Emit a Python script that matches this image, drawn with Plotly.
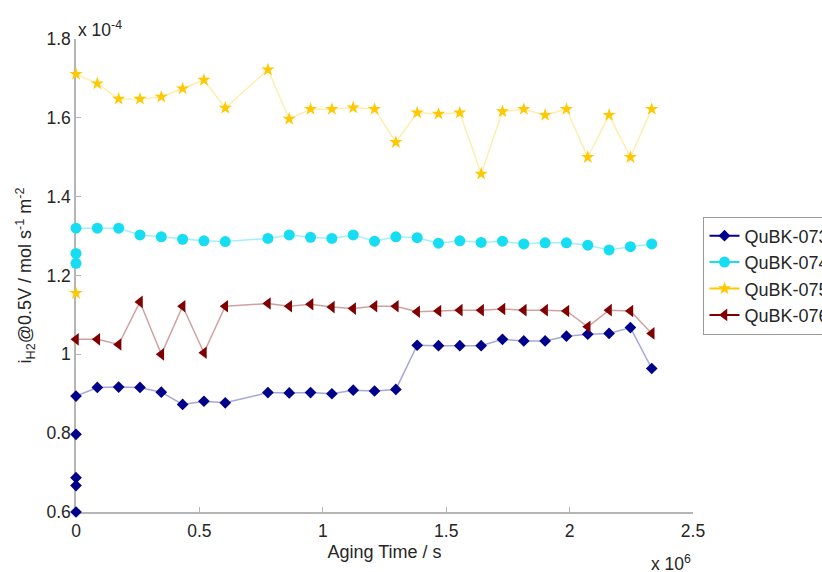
import plotly.graph_objects as go

# Aging time in days (day 8 missing); converted to seconds below
days = [0, 1, 2, 3, 4, 5, 6, 7, 9, 10, 11, 12, 13, 14, 15, 16, 17, 18, 19, 20,
        21, 22, 23, 24, 25, 26, 27]
SEC_PER_DAY = 86400

# Current density i_H2 @0.5V in units of 1e-4 mol s^-1 m^-2
qubk073 = [0.894, 0.916, 0.917, 0.916, 0.904, 0.873, 0.881, 0.877, 0.903, 0.902,
           0.903, 0.900, 0.909, 0.907, 0.911, 1.023, 1.022, 1.022, 1.022, 1.038,
           1.034, 1.034, 1.046, 1.051, 1.053, 1.068, 0.964]
qubk074 = [1.320, 1.320, 1.320, 1.303, 1.298, 1.292, 1.288, 1.286, 1.294, 1.303,
           1.297, 1.294, 1.303, 1.287, 1.298, 1.296, 1.282, 1.288, 1.284, 1.287,
           1.280, 1.283, 1.283, 1.277, 1.265, 1.273, 1.280]
qubk075 = [1.711, 1.687, 1.648, 1.648, 1.653, 1.674, 1.696, 1.625, 1.722, 1.597,
           1.622, 1.622, 1.626, 1.622, 1.538, 1.613, 1.610, 1.613, 1.458, 1.616,
           1.622, 1.607, 1.622, 1.500, 1.607, 1.500, 1.622]
qubk076 = [1.038, 1.038, 1.025, 1.133, 1.000, 1.122, 1.004, 1.122, 1.129, 1.122,
           1.127, 1.120, 1.116, 1.122, 1.122, 1.108, 1.110, 1.112, 1.112, 1.115,
           1.112, 1.112, 1.110, 1.070, 1.112, 1.110, 1.053]

# extra initial measurements at t = 0
init073 = [0.600, 0.667, 0.687, 0.797]
init074 = [1.231, 1.256]
init075 = [1.155]
init076 = []

names = ["QuBK-073", "QuBK-074", "QuBK-075", "QuBK-076"]
xticks = [0, 0.5, 1, 1.5, 2, 2.5]
xtick_labels = ["0", "0.5", "1", "1.5", "2", "2.5"]
yticks = [0.6, 0.8, 1.0, 1.2, 1.4, 1.6, 1.8]
ytick_labels = ["0.6", "0.8", "1", "1.2", "1.4", "1.6", "1.8"]

series = [
    (qubk073, init073, "#00008B", "rgba(80,80,180,0.5)", "diamond", 9),
    (qubk074, init074, "#16DDF2", "rgba(100,230,250,0.6)", "circle", 11),
    (qubk075, init075, "#FFC800", "rgba(255,215,80,0.45)", "star", 10),
    (qubk076, init076, "#800000", "rgba(160,70,70,0.5)", "triangle-left", 11),
]

FONT = "Liberation Sans, Arial, sans-serif"
TXT = "#262626"

fig = go.Figure()
for name, (vals, init, col, lcol, sym, size) in zip(names, series):
    if init:
        fig.add_trace(go.Scatter(
            x=[0] * len(init), y=init, mode="markers", showlegend=False, name=name,
            marker=dict(symbol=sym, size=size, color=col, line=dict(width=0)),
            cliponaxis=False,
        ))
    fig.add_trace(go.Scatter(
        x=[d * SEC_PER_DAY for d in days], y=vals, mode="lines+markers", name=name,
        showlegend=False,
        line=dict(color=lcol, width=1.5),
        marker=dict(symbol=sym, size=size, color=col, line=dict(width=0)),
        cliponaxis=False,
    ))
for name, (vals, init, col, lcol, sym, size) in zip(names, series):
    fig.add_trace(go.Scatter(
        x=[None], y=[None], mode="lines+markers", name=name,
        line=dict(color=col, width=2),
        marker=dict(symbol=sym, size=size, color=col, line=dict(width=0)),
    ))

axis_common = dict(
    showline=True, linecolor="#b5b5b5", linewidth=1.5,
    ticks="inside", ticklen=5, tickwidth=1, tickcolor="#b5b5b5",
    showgrid=False, zeroline=False, layer="below traces",
    tickfont=dict(family=FONT, size=17.5, color=TXT),
)

fig.update_layout(
    width=822, height=572,
    margin=dict(l=76, r=129, t=39, b=60, autoexpand=False),
    paper_bgcolor="white", plot_bgcolor="white",
    font=dict(family=FONT, size=18, color=TXT),
    xaxis=dict(range=[0, 2.5e6], tickvals=[v * 1e6 for v in xticks], ticktext=xtick_labels,
               ticklabelstandoff=2,
               title=dict(text="Aging Time / s", standoff=6,
                          font=dict(family=FONT, size=18, color=TXT)),
               **axis_common),
    yaxis=dict(range=[0.6, 1.8], tickvals=yticks, ticktext=ytick_labels,
               title=dict(text="i<sub>H2</sub>@0.5V / mol s<sup>-1</sup> m<sup>-2</sup>",
                          standoff=10, font=dict(family=FONT, size=18, color=TXT)),
               **axis_common),
    legend=dict(x=1.017, xanchor="left", y=0.5, yanchor="middle",
                bordercolor="#9a9a9a", borderwidth=1, bgcolor="white",
                font=dict(family=FONT, size=18, color=TXT), tracegroupgap=0),
    annotations=[
        dict(text="x 10<sup>-4</sup>", xref="paper", yref="paper", x=0, y=1,
             xanchor="left", yanchor="bottom", showarrow=False, yshift=-3,
             font=dict(family=FONT, size=17.5, color=TXT)),
        dict(text="x 10<sup>6</sup>", xref="paper", yref="paper", x=1, y=0,
             xanchor="right", yanchor="top", showarrow=False, yshift=-38,
             font=dict(family=FONT, size=17.5, color=TXT)),
    ],
)

fig.write_html("out.html", config={"displayModeBar": False},
               post_script="document.body.style.margin='0px';")
